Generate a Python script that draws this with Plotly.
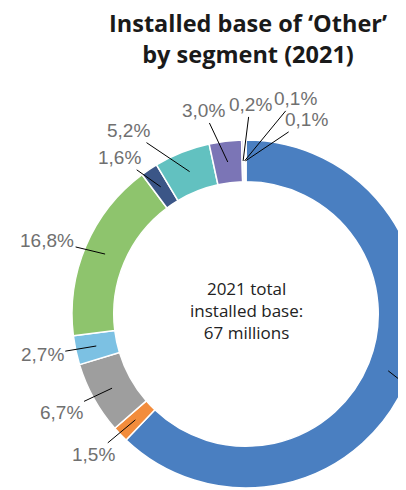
import numpy as np
import plotly.graph_objects as go

# ---- data ----
segments = ["Seg A", "Seg B", "Seg C", "Seg D", "Seg E", "Seg F",
            "Seg G", "Seg H", "Seg I", "Seg J", "Seg K"]
shares = [62.1, 1.5, 6.7, 2.7, 16.8, 1.6, 5.2, 3.0, 0.2, 0.1, 0.1]
labels = ["62,1%", "1,5%", "6,7%", "2,7%", "16,8%", "1,6%",
          "5,2%", "3,0%", "0,2%", "0,1%", "0,1%"]
title_lines = ["Installed base of \u2018Other\u2019", "by segment (2021)"]
center_lines = ["2021 total", "installed base:", "67 millions"]

# ---- style ----
colors = ["#4A7FC1", "#F28C3C", "#9E9E9E", "#7CC1E3", "#8EC46D", "#3B5687",
          "#62C1C0", "#7B75B6", "#D6D1EC", "#F2F2F2", "#F5C21B"]
W, H = 424, 490
CX, CY, R, HOLE = 238, 306, 174, 0.76
# label offsets (px) from the leader-line anchor
offs = [(62, 34), (-42, 35), (-51, 24), (-54, 9), (-58, -14), (-41, -29),
        (-61, -41), (-24, -51), (7, -56), (51, -62), (61, -41)]

fig = go.Figure()
fig.add_trace(go.Pie(
    labels=segments, values=shares, hole=HOLE, sort=False,
    direction="clockwise", rotation=0, textinfo="none", hoverinfo="label+percent",
    marker=dict(colors=colors, line=dict(color="white", width=1.5)),
    domain=dict(x=[(CX - R) / W, (CX + R) / W], y=[(H - CY - R) / H, (H - CY + R) / H]),
    showlegend=False,
))

# leader-line anchors from cumulative shares
tot = sum(shares)
cum = np.cumsum([0] + shares[:-1])
rmid = R * (1 + HOLE) / 2
anns = []
for v, c, lab, (ox, oy) in zip(shares, cum, labels, offs):
    th = np.deg2rad((c + v / 2) / tot * 360)
    px = CX + rmid * np.sin(th)
    py = CY - rmid * np.cos(th)
    anns.append(dict(x=px / W, y=1 - py / H, xref="paper", yref="paper",
                     text=lab, showarrow=True, arrowhead=0, arrowwidth=1,
                     arrowcolor="black", ax=ox, ay=oy, standoff=0,
                     font=dict(family="Liberation Sans", size=19, color="#707070")))

anns.append(dict(x=240 / W, y=1 - 31 / H, xref="paper", yref="paper",
                 text="<b>" + "<br>".join(title_lines) + "</b>", showarrow=False,
                 xanchor="center", yanchor="middle",
                 font=dict(family="Open Sans", size=23.5, color="#1A1A1A")))

anns.append(dict(x=CX / W, y=1 - 302 / H, xref="paper", yref="paper",
                 text="<br>".join(center_lines), showarrow=False,
                 xanchor="center", yanchor="middle",
                 font=dict(family="Open Sans", size=17, color="#222222")))

fig.update_layout(width=W, height=H, margin=dict(l=0, r=0, t=0, b=0),
                  paper_bgcolor="white", plot_bgcolor="white",
                  annotations=anns)
fig.write_html("out.html")
